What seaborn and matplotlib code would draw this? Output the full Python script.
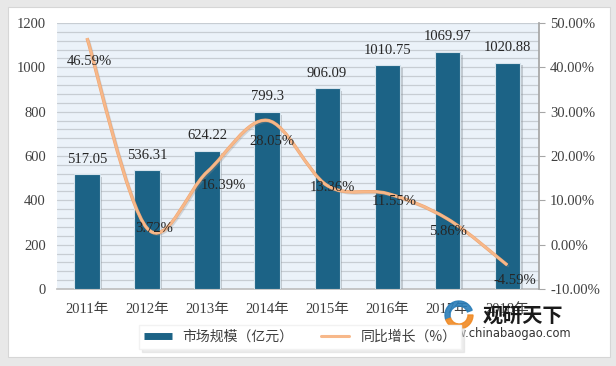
import numpy as np
import pandas as pd
import seaborn as sns
import matplotlib.pyplot as plt
import matplotlib.patheffects as pe
from matplotlib.path import Path
from matplotlib.patches import PathPatch, Rectangle, Wedge
from matplotlib.lines import Line2D
from matplotlib.ticker import MultipleLocator, FuncFormatter
from matplotlib.transforms import IdentityTransform

sns.set_theme(style="white")
plt.rcParams['font.family'] = ['Liberation Serif', 'Noto Sans CJK SC', 'DejaVu Sans']

# ── Data ──────────────────────────────────────────────
years = ["2011年", "2012年", "2013年", "2014年", "2015年", "2016年", "2017年", "2018年"]
market_size = [517.05, 536.31, 624.22, 799.3, 906.09, 1010.75, 1069.97, 1020.88]
growth = [46.59, 3.72, 16.39, 28.05, 13.36, 11.55, 5.86, -4.59]
size_labels = ["517.05", "536.31", "624.22", "799.3", "906.09", "1010.75", "1069.97", "1020.88"]
growth_labels = ["46.59%", "3.72%", "16.39%", "28.05%", "13.36%", "11.55%", "5.86%", "-4.59%"]

# label nudges for growth labels (pixels right / down)
label_dx = [2, 7, 16, 5, 5, 7, 1, 8]
label_dy = [23, 0, 13, 21, 2, 8, 13, 15]

BAR = "#1C6386"
LINE = "#F7B88A"
TXT = "#404040"

df = pd.DataFrame({"year": years, "size": market_size})

fig = plt.figure(figsize=(6.16, 3.66), dpi=100, facecolor="#E8E8E8")
fig.add_artist(Rectangle((8 / 616, 9 / 366), 602 / 616, 350 / 366,
                         transform=fig.transFigure, facecolor="white",
                         edgecolor="#D6D6D6", lw=0.8, zorder=0))

ax = fig.add_axes([57 / 616, 77 / 366, 482 / 616, 266 / 366])
ax.set_facecolor("#EBF2F9")

sns.barplot(data=df, x="year", y="size", color=BAR, width=0.42,
            edgecolor="#D6E3EC", linewidth=0.8, saturation=1, ax=ax, zorder=3)
for p in ax.patches:
    p.set_path_effects([pe.SimplePatchShadow(offset=(2, -2), shadow_rgbFace="#8E979F", alpha=0.45),
                        pe.Normal()])
ax.bar_label(ax.containers[0], labels=size_labels, padding=6,
             fontsize=10.5, color="#262626")

ax.set_xlim(-0.5, 7.53)
ax.set_ylim(0, 1200)
ax.yaxis.set_major_locator(MultipleLocator(200))
ax.yaxis.set_minor_locator(MultipleLocator(40))
ax.grid(which="both", axis="y", color="#C7CDD3", lw=0.9)
ax.set_axisbelow(True)
ax.set_xlabel("")
ax.set_ylabel("")
ax.tick_params(axis="y", which="both", length=0, pad=8, labelsize=10.5, labelcolor=TXT)
ax.tick_params(axis="x", length=0, pad=10, labelsize=10.5, labelcolor=TXT)
for s in ["left", "top", "right"]:
    ax.spines[s].set_visible(False)
ax.spines["bottom"].set_color("#BFBFBF")

# ── Growth line (smoothed like Excel) ─────────────────
ax2 = ax.twinx()
ax2.set_ylim(-10, 50)
ax2.yaxis.set_major_locator(MultipleLocator(10))
ax2.yaxis.set_major_formatter(FuncFormatter(lambda v, _: f"{v:.2f}%"))
ax2.tick_params(axis="y", direction="out", length=4, width=0.8, color="#A6A6A6",
                pad=4, labelsize=10.5, labelcolor=TXT)
for s in ["left", "top", "bottom"]:
    ax2.spines[s].set_visible(False)
ax2.spines["right"].set_color("#A6A6A6")
ax2.grid(False)

xs = np.arange(len(growth), dtype=float)
pts = np.column_stack([xs, growth])
ext = np.vstack([pts[0], pts, pts[-1]])
verts = [tuple(pts[0])]
codes = [Path.MOVETO]
for i in range(len(pts) - 1):
    p0, p1, p2, p3 = ext[i], ext[i + 1], ext[i + 2], ext[i + 3]
    c1 = p1 + (p2 - p0) / 6
    c2 = p2 - (p3 - p1) / 6
    verts += [tuple(c1), tuple(c2), tuple(p2)]
    codes += [Path.CURVE4] * 3
curve = PathPatch(Path(verts, codes), fill=False, edgecolor=LINE, lw=1.6,
                  transform=ax2.transData, zorder=4,
                  path_effects=[pe.SimpleLineShadow(offset=(1.2, -1.2), shadow_color="#8E8E8E", alpha=0.3),
                                pe.Stroke(linewidth=2.4, foreground="#F0A772"),
                                pe.Normal()])
ax2.add_patch(curve)

for i, lab in enumerate(growth_labels):
    ax2.annotate(lab, (xs[i], growth[i]), xytext=(label_dx[i] * 0.72, -label_dy[i] * 0.72),
                 textcoords="offset points", ha="center", va="center",
                 fontsize=10.5, color="#262626", zorder=5)

# ── Legend ────────────────────────────────────────────
handles = [Line2D([], [], color=BAR, lw=5, solid_capstyle="butt"),
           Line2D([], [], color=LINE, lw=2.2)]
leg = fig.legend(handles, ["市场规模（亿元）", "同比增长（%）"], loc="center",
                 bbox_to_anchor=(300 / 616, 1 - 337 / 366), ncol=2, frameon=True,
                 fancybox=False, edgecolor="#F2F2F2", handlelength=2.0,
                 columnspacing=2.0, borderpad=0.35, shadow={"color": "#DADADA"},
                 prop={"family": ["Noto Sans CJK SC"], "size": 10})
for t in leg.get_texts():
    t.set_color(TXT)

# ── Watermark ─────────────────────────────────────────
fig.add_artist(Wedge((459, 366 - 315), 14, 20, 200, width=5, color="#2A7DB8",
                     transform=IdentityTransform(), alpha=0.9))
fig.add_artist(Wedge((459, 366 - 315), 14, 200, 360, width=5, color="#F08A24",
                     transform=IdentityTransform(), alpha=0.9))
fig.text(523 / 616, 1 - 315 / 366, "观研天下", ha="center", va="center",
         family=["Noto Sans CJK SC"], fontweight="bold", fontsize=14.5, color="#1A1A1A")
fig.text(505 / 616, 1 - 333 / 366, "www.chinabaogao.com", ha="center", va="center",
         family=["DejaVu Sans"], fontsize=8.3, color="#333333")

fig.savefig("out.png", dpi=100, facecolor=fig.get_facecolor())
